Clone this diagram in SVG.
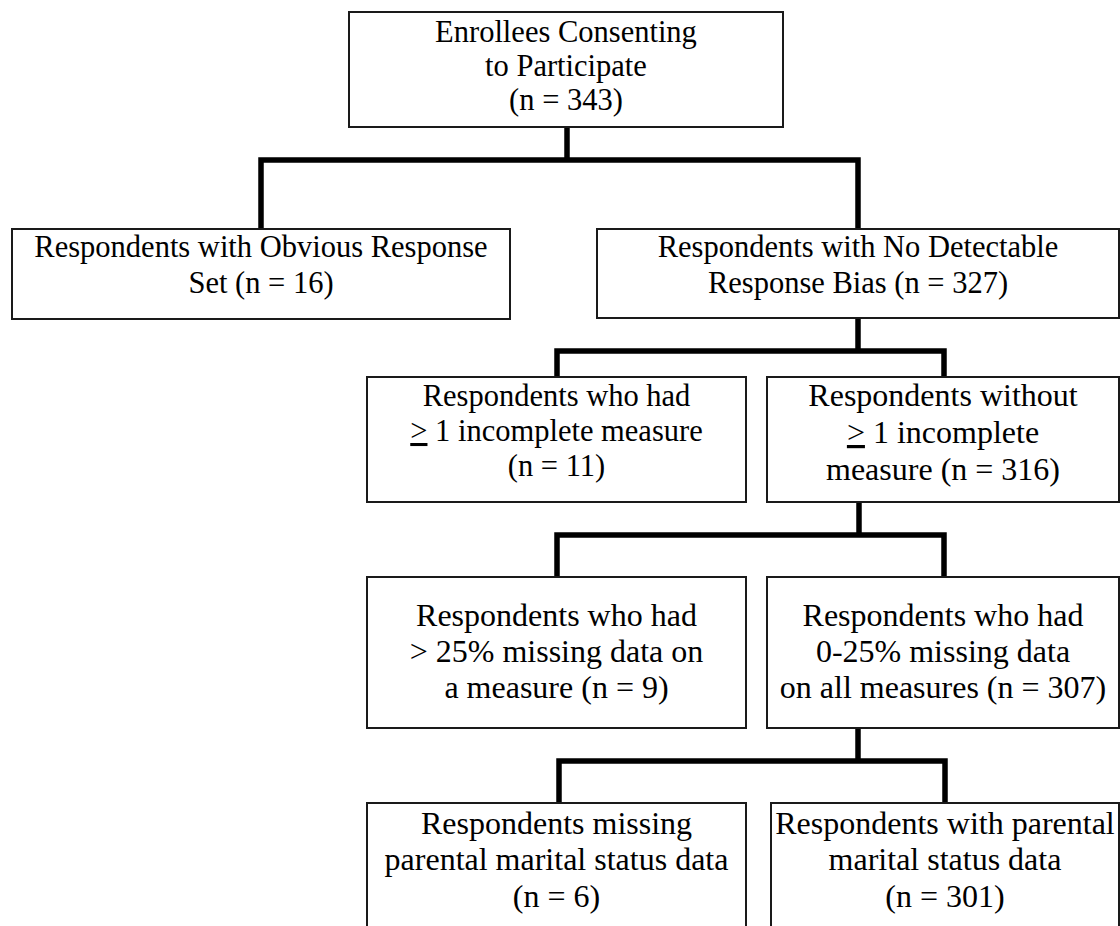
<svg xmlns="http://www.w3.org/2000/svg" width="1120" height="926" viewBox="0 0 1120 926">
  <style>
    .box { fill: #ffffff; stroke: #1a1a1a; stroke-width: 2; }
    .lbl { font-family: "Liberation Serif", "Times New Roman", serif; fill: #000000; text-anchor: middle; }
    .s1 { font-size: 30.5px; }
    .s2 { font-size: 32px; }
    .link { fill: none; stroke: #000000; stroke-width: 5.5; stroke-linejoin: miter; }
    .ul { text-decoration: underline; }
  </style>
  <rect width="1120" height="926" fill="#ffffff"/>

  <!-- connectors -->
  <g id="connectors">
    <path class="link" d="M567,127 V160"/>
    <path class="link" d="M261,229 V160 H858 V229"/>
    <path class="link" d="M858,318 V351"/>
    <path class="link" d="M557,377 V351 H944 V377"/>
    <path class="link" d="M859,502 V535"/>
    <path class="link" d="M557,577 V535 H944 V577"/>
    <path class="link" d="M858,728 V761"/>
    <path class="link" d="M559,803 V761 H945 V803"/>
  </g>

  <g id="enrollees">
    <rect class="box" x="349" y="12" width="434" height="115"/>
    <text class="lbl s1" x="566" y="42">Enrollees Consenting</text>
    <text class="lbl s1" x="566" y="76">to Participate</text>
    <text class="lbl s1" x="566" y="110">(n = 343)</text>
  </g>

  <g id="obvious-response-set">
    <rect class="box" x="12" y="229" width="498" height="90"/>
    <text class="lbl s1" x="261" y="257">Respondents with Obvious Response</text>
    <text class="lbl s1" x="261" y="293">Set (n = 16)</text>
  </g>

  <g id="no-response-bias">
    <rect class="box" x="597" y="229" width="522" height="89"/>
    <text class="lbl s1" x="858" y="257">Respondents with No Detectable</text>
    <text class="lbl s1" x="858" y="293">Response Bias (n = 327)</text>
  </g>

  <g id="incomplete-measure">
    <rect class="box" x="367" y="377" width="379" height="125"/>
    <text class="lbl s1" x="556.5" y="406">Respondents who had</text>
    <text class="lbl s1" x="556.5" y="441"><tspan class="ul">&gt;</tspan> 1 incomplete measure</text>
    <text class="lbl s1" x="556.5" y="476">(n = 11)</text>
  </g>

  <g id="complete-measures">
    <rect class="box" x="767" y="377" width="352" height="125"/>
    <text class="lbl s2" x="943" y="406">Respondents without</text>
    <text class="lbl s2" x="943" y="443"><tspan class="ul">&gt;</tspan> 1 incomplete</text>
    <text class="lbl s2" x="943" y="480">measure (n = 316)</text>
  </g>

  <g id="over-25-missing">
    <rect class="box" x="367" y="577" width="379" height="151"/>
    <text class="lbl s2" x="556.5" y="626">Respondents who had</text>
    <text class="lbl s2" x="556.5" y="662">&gt; 25% missing data on</text>
    <text class="lbl s2" x="556.5" y="698">a measure (n = 9)</text>
  </g>

  <g id="under-25-missing">
    <rect class="box" x="767" y="577" width="352" height="151"/>
    <text class="lbl s2" x="943" y="626">Respondents who had</text>
    <text class="lbl s2" x="943" y="662">0-25% missing data</text>
    <text class="lbl s2" x="943" y="698">on all measures (n = 307)</text>
  </g>

  <g id="missing-marital-status">
    <rect class="box" x="367" y="803" width="379" height="140"/>
    <text class="lbl s2" x="556.5" y="834">Respondents missing</text>
    <text class="lbl s2" x="556.5" y="870">parental marital status data</text>
    <text class="lbl s2" x="556.5" y="907">(n = 6)</text>
  </g>

  <g id="with-marital-status">
    <rect class="box" x="771" y="803" width="348" height="140"/>
    <text class="lbl s2" x="945" y="834">Respondents with parental</text>
    <text class="lbl s2" x="945" y="870">marital status data</text>
    <text class="lbl s2" x="945" y="907">(n = 301)</text>
  </g>
</svg>
